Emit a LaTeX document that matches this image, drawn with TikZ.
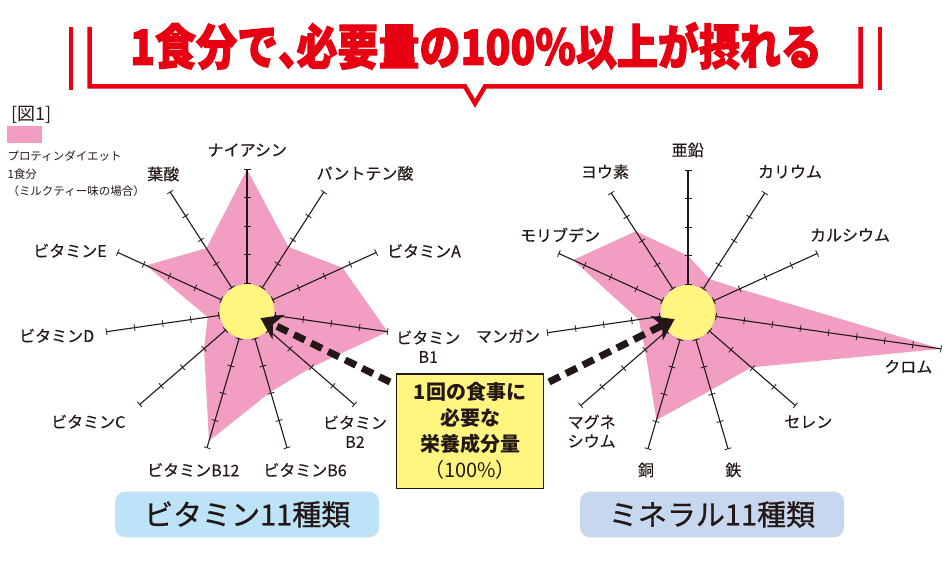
\documentclass[tikz,border=0pt]{standalone}
\usepackage{fontspec}
\setmainfont{Noto Sans CJK JP}
\newfontfamily\heavyjp[FakeBold=2.4]{Noto Sans CJK JP}
\newfontfamily\mediumjp[FakeBold=0.8]{Noto Sans CJK JP}
\newfontfamily\labeljp[FakeBold=0.3]{Noto Sans CJK JP}
\usetikzlibrary{arrows.meta}

\definecolor{ink}{HTML}{231815}
\definecolor{titlered}{HTML}{E60012}
\definecolor{chartpink}{HTML}{F19EC2}
\definecolor{hubyellow}{HTML}{FFF57F}
\definecolor{vitblue}{HTML}{BDE3F8}
\definecolor{minblue}{HTML}{C7D7EF}

\tikzset{
  axisline/.style={ink, line width=1.1pt},
  tickmark/.style={ink, line width=0.8pt},
  hub/.style={circle, fill=hubyellow, minimum size=55pt, inner sep=0pt},
  lbl/.style={ink, font=\labeljp\fontsize{16}{19}\selectfont, align=center, inner sep=0pt},
  groupbox/.style={rounded corners=10pt, minimum width=264pt, minimum height=45.6pt,
    text=ink, font=\mediumjp\fontsize{29}{30}\selectfont},
  notebox/.style={draw=ink, line width=1.5pt, fill=hubyellow, minimum width=146.6pt,
    minimum height=114.3pt, align=center, text=ink, font=\bfseries\fontsize{20}{26}\selectfont},
  bigarrow/.style={ink, line width=7pt, dash pattern=on 12pt off 7pt,
    -{Stealth[length=20pt,width=27pt,inset=6pt]}, shorten >=15pt},
  bracket/.style={titlered, line width=4.5pt, line join=miter},
  bracketthin/.style={titlered, line width=4pt}
}

\begin{document}
\begin{tikzpicture}[x=1pt,y=1pt]
  \useasboundingbox (0,0) rectangle (950,563);

  % title and its bracket
  \node[titlered, font=\heavyjp\bfseries\fontsize{41}{44}\selectfont, inner sep=0pt, yscale=1.18] (title) at (476,517)
    {1食分で\makebox[0.45em][l]{、}必要量の100\%以上が摂れる};
  \draw[bracket] (89.5,536) -- (89.5,476.5) -- (465,476.5) -- (475,459.5) -- (485,476.5)
    -- (860.5,476.5) -- (860.5,536);
  \draw[bracketthin] (70.5,536) -- (70.5,473);
  \draw[bracketthin] (879.5,536) -- (879.5,473);

  % legend
  \node[ink, font=\fontsize{18}{19}\selectfont, inner sep=0pt] (fig) at (31.5,448) {[図1]};
  \node[fill=chartpink, minimum width=35pt, minimum height=17.3pt, inner sep=0pt] (key) at (24.8,428.3) {};
  \node[ink, anchor=north west, align=left, inner sep=0pt, font=\fontsize{11.5}{17.5}\selectfont] (keytext)
    at (7.3,412) {プロティンダイエット\\1食分\\（ミルクティー味の場合）};

  % vitamins
  \begin{scope}[shift={(247,251.5)}]
    \foreach \v [count=\k from 0] in {5,2.7,3.7,5,3.0,2.95,4.75,2.0,1.4,3.9,2.65}
      \coordinate (vL\k) at ({90-\k*360/11}:\v*28.4);
    \fill[chartpink] (vL0) \foreach \k in {1,...,10}{ -- (vL\k)} -- cycle;
    \foreach \n [count=\k from 0] in {5,5,5,5,5,5,5,5,5,5,5} {
      \draw[axisline, rotate={90-\k*360/11}] (0,0) -- (\n*28.4,0);
      \foreach \t in {1,...,\n}
        \draw[tickmark, rotate={90-\k*360/11}] (\t*28.4,-3.5) -- (\t*28.4,3.5);
    }
    \node[hub] (hubL) at (0,0) {};
  \end{scope}
  \node[lbl] (niacin) at (247.3,413) {ナイアシン};
  \node[lbl] (panto) at (365,389.7) {パントテン酸};
  \node[lbl] (vitA) at (424,312) {ビタミンA};
  \node[lbl] (vitBa) at (428.3,216.3) {ビタミン\\B1};
  \node[lbl] (vitBb) at (355,131.3) {ビタミン\\B2};
  \node[lbl] (vitBf) at (305,93) {ビタミンB6};
  \node[lbl] (vitBt) at (193.3,93) {ビタミンB12};
  \node[lbl] (vitC) at (88.3,141.3) {ビタミンC};
  \node[lbl] (vitD) at (56.7,227.3) {ビタミンD};
  \node[lbl] (vitE) at (70,312.3) {ビタミンE};
  \node[lbl] (folic) at (163.3,389) {葉酸};

  % minerals
  \begin{scope}[shift={(688,250.5)}]
    \foreach \v [count=\k from 0] in {2.0,1.4,2.0,9,2.95,2.85,3.95,2.0,1.75,4.45,3.4}
      \coordinate (vR\k) at ({90-\k*360/11}:\v*28.4);
    \fill[chartpink] (vR0) \foreach \k in {1,...,10}{ -- (vR\k)} -- cycle;
    \foreach \n [count=\k from 0] in {5,5,5,9,5,5,5,5,5,5,5} {
      \draw[axisline, rotate={90-\k*360/11}] (0,0) -- (\n*28.4,0);
      \foreach \t in {1,...,\n}
        \draw[tickmark, rotate={90-\k*360/11}] (\t*28.4,-3.5) -- (\t*28.4,3.5);
    }
    \node[hub] (hubR) at (0,0) {};
  \end{scope}
  \node[lbl] (zinc) at (687.7,413) {亜鉛};
  \node[lbl] (potas) at (790,391.3) {カリウム};
  \node[lbl] (calc) at (850,328) {カルシウム};
  \node[lbl] (chrom) at (908.3,196.3) {クロム};
  \node[lbl] (selen) at (808.3,141.3) {セレン};
  \node[lbl] (iron) at (733.3,93) {鉄};
  \node[lbl] (copper) at (646,93) {銅};
  \node[lbl] (magne) at (591.7,131.8) {マグネ\\シウム};
  \node[lbl] (mangan) at (508,227) {マンガン};
  \node[lbl] (molyb) at (560,328) {モリブデン};
  \node[lbl] (iodine) at (605,391.3) {ヨウ素};

  % 100% note and arrows
  \node[notebox] (note) at (470,131.8) {1回の食事に\\必要な\\栄養成分量\\{\mdseries （100\%）}};
  \coordinate (arrL) at (390,181);
  \coordinate (arrR) at (549,181);
  \draw[bigarrow] (arrL) -- (hubL.center);
  \draw[bigarrow] (arrR) -- (hubR.center);

  % group labels
  \node[groupbox, fill=vitblue] (vitbox) at (247.2,48.5) {ビタミン11種類};
  \node[groupbox, fill=minblue] (minbox) at (712,48.5) {ミネラル11種類};
\end{tikzpicture}
\end{document}
